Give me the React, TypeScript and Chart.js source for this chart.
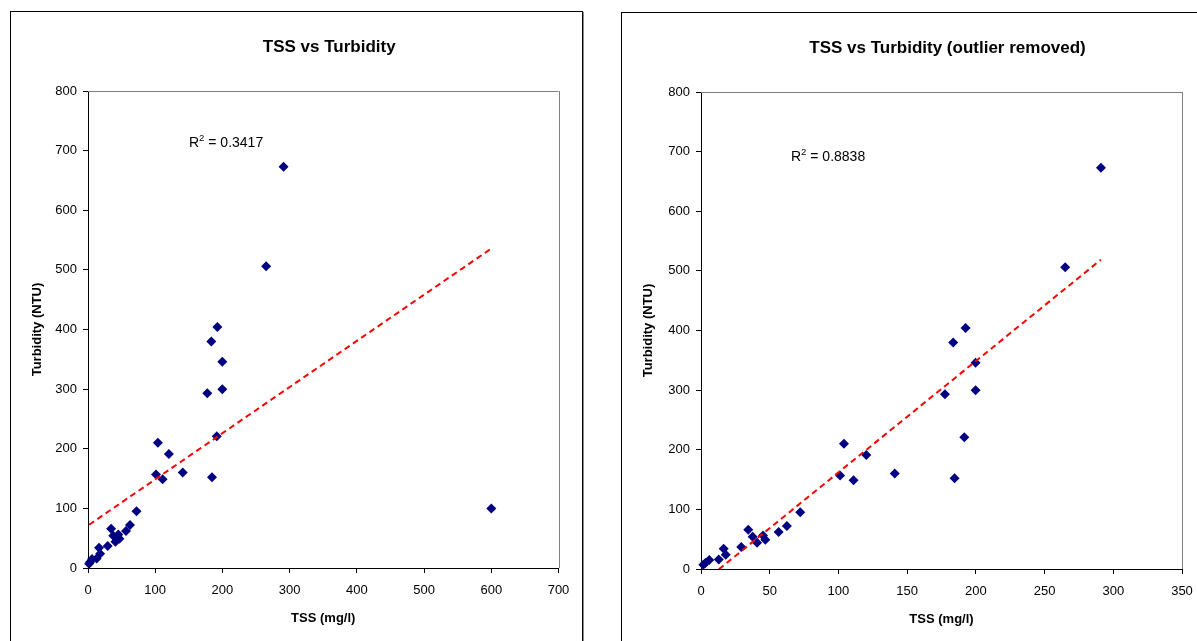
import React, { useEffect, useRef } from "react";
import { Chart, registerables } from "chart.js";

Chart.register(...registerables);

// TSS (mg/l) and turbidity (NTU) samples
const tssValues = [
  1.7, 3.2, 6, 12.9, 16.5, 18, 29.3, 34.4, 37.6, 40.8, 45.1, 46.8, 56.5, 62.5, 72.2,
  101.2, 104, 111, 120.3, 141, 177.5, 183.5, 184.5, 191.6, 192.5, 199.8, 199.8, 265, 291,
];
const turbidityValues = [
  7, 10, 15, 16, 34, 24, 37, 66, 54, 44, 56, 49, 62, 72, 95,
  157, 210, 149, 191, 160, 293, 380, 152, 221, 404, 346, 300, 506, 673,
];
// single outlying sample, only included in the first chart
const outlierTss = [600];
const outlierTurbidity = [100];

const turbidityMax = 800;
const turbidityStep = 100;
const fullTssMax = 700;
const fullTssStep = 100;
const trimmedTssMax = 350;
const trimmedTssStep = 50;

const fullR2Label = "0.3417";
const trimmedR2Label = "0.8838";

const FONT = "'Liberation Sans', Arial, Helvetica, sans-serif";

function linearFit(xs: number[], ys: number[]) {
  const n = xs.length;
  const mx = xs.reduce((a, b) => a + b, 0) / n;
  const my = ys.reduce((a, b) => a + b, 0) / n;
  let sxy = 0;
  let sxx = 0;
  for (let i = 0; i < n; i++) {
    sxy += (xs[i] - mx) * (ys[i] - my);
    sxx += (xs[i] - mx) * (xs[i] - mx);
  }
  const slope = sxy / sxx;
  return { slope, intercept: my - slope * mx };
}

type PanelProps = {
  title: string;
  xs: number[];
  ys: number[];
  xMax: number;
  xStep: number;
  r2: string;
  r2Dx: number;
  r2Dy: number;
  width: number;
  height: number;
  areaLeft: number;
  areaRight: number;
  areaTop: number;
  areaBottom: number;
};

function ScatterPanel(props: PanelProps) {
  const ref = useRef<HTMLCanvasElement | null>(null);

  useEffect(() => {
    const canvas = ref.current;
    if (!canvas) return;
    const { title, xs, ys, xMax, xStep, r2, r2Dx, r2Dy, width, height, areaLeft, areaRight, areaTop, areaBottom } = props;

    const points = xs.map((x, i) => ({ x, y: ys[i] }));
    const fit = linearFit(xs, ys);
    const xLo = Math.min(...xs);
    const xHi = Math.max(...xs);
    const trend = [
      { x: xLo, y: fit.intercept + fit.slope * xLo },
      { x: xHi, y: fit.intercept + fit.slope * xHi },
    ];

    const xAxisHeight = 62;

    const decorations = {
      id: "plotDecorations",
      beforeDatasetsDraw(chart: Chart) {
        const { ctx, chartArea: a } = chart;
        ctx.save();
        ctx.strokeStyle = "#808080";
        ctx.lineWidth = 1;
        ctx.beginPath();
        ctx.moveTo(a.left, Math.round(a.top) + 0.5);
        ctx.lineTo(a.right, Math.round(a.top) + 0.5);
        ctx.moveTo(Math.round(a.right) + 0.5, a.top);
        ctx.lineTo(Math.round(a.right) + 0.5, a.bottom);
        ctx.stroke();
        ctx.restore();
      },
      afterDraw(chart: Chart) {
        const { ctx, chartArea: a } = chart;
        ctx.save();
        ctx.fillStyle = "#000";
        ctx.textBaseline = "middle";

        // chart title, centred a little right of the plot area centre
        ctx.textAlign = "center";
        ctx.font = `bold 17px ${FONT}`;
        ctx.fillText(title, (a.left + a.right) / 2 + 6, 35);

        // R² annotation with a raised "2"
        ctx.textAlign = "left";
        let x = a.left + r2Dx;
        const y = a.top + r2Dy;
        ctx.font = `14px ${FONT}`;
        ctx.fillText("R", x, y);
        x += ctx.measureText("R").width;
        ctx.font = `9.5px ${FONT}`;
        ctx.fillText("2", x, y - 5);
        x += ctx.measureText("2").width;
        ctx.font = `14px ${FONT}`;
        ctx.fillText(" = " + r2, x, y);
        ctx.restore();
      },
    };

    const chart = new Chart(canvas, {
      type: "scatter",
      data: {
        datasets: [
          {
            label: "Linear trend",
            data: trend,
            showLine: true,
            borderColor: "#ff0000",
            borderWidth: 2,
            borderDash: [6, 4],
            pointRadius: 0,
            fill: false,
            clip: 0,
          },
          {
            label: "Samples",
            data: points,
            pointStyle: "rectRot",
            pointRadius: 5,
            pointBackgroundColor: "#000080",
            pointBorderColor: "#000080",
            pointBorderWidth: 0,
            clip: false,
          },
        ],
      },
      options: {
        animation: false,
        responsive: false,
        maintainAspectRatio: false,
        devicePixelRatio: 1,
        layout: {
          padding: {
            left: 0,
            right: width - areaRight,
            top: areaTop,
            bottom: height - areaBottom - xAxisHeight,
          },
        },
        plugins: {
          legend: { display: false },
          tooltip: { enabled: false },
          title: { display: false },
        },
        scales: {
          x: {
            type: "linear",
            min: 0,
            max: xMax,
            afterFit(scale: any) {
              scale.height = xAxisHeight;
            },
            ticks: {
              stepSize: xStep,
              color: "#000",
              padding: 10,
              font: { family: FONT, size: 13 },
            },
            grid: { drawOnChartArea: false, drawTicks: true, tickLength: 5, color: "#000" },
            border: { display: true, color: "#000", width: 1 },
            title: {
              display: true,
              text: "TSS (mg/l)",
              color: "#000",
              font: { family: FONT, size: 13, weight: "bold", lineHeight: 1.2 },
              padding: { top: 0, bottom: 4 },
            },
          },
          y: {
            type: "linear",
            min: 0,
            max: turbidityMax,
            afterFit(scale: any) {
              scale.width = areaLeft;
            },
            ticks: {
              stepSize: turbidityStep,
              color: "#000",
              padding: 6,
              font: { family: FONT, size: 13 },
            },
            grid: { drawOnChartArea: false, drawTicks: true, tickLength: 5, color: "#000" },
            border: { display: true, color: "#000", width: 1 },
            title: {
              display: true,
              text: "Turbidity (NTU)",
              color: "#000",
              font: { family: FONT, size: 13, weight: "bold", lineHeight: 1.2 },
              padding: { top: 19, bottom: 0 },
            },
          },
        },
      },
      plugins: [decorations],
    });

    return () => chart.destroy();
  }, []);

  return (
    <canvas
      ref={ref}
      width={props.width}
      height={props.height}
      style={{ display: "block", width: props.width, height: props.height }}
    />
  );
}

const panelStyle: React.CSSProperties = {
  position: "absolute",
  border: "1px solid #000",
  boxShadow: "1px 1px 0 #8a8a8a",
  background: "#fff",
  overflow: "hidden",
};

export default function App() {
  return (
    <div
      style={{
        position: "fixed",
        left: 0,
        top: 0,
        width: 1197,
        height: 641,
        overflow: "hidden",
        background: "#fff",
      }}
    >
      <div style={{ ...panelStyle, left: 10, top: 11, width: 571, height: 700 }}>
        <ScatterPanel
          title="TSS vs Turbidity"
          xs={[...tssValues, ...outlierTss]}
          ys={[...turbidityValues, ...outlierTurbidity]}
          xMax={fullTssMax}
          xStep={fullTssStep}
          r2={fullR2Label}
          r2Dx={101}
          r2Dy={52}
          width={571}
          height={628}
          areaLeft={77}
          areaRight={547.5}
          areaTop={79}
          areaBottom={556}
        />
      </div>
      <div style={{ ...panelStyle, left: 621, top: 12, width: 600, height: 700 }}>
        <ScatterPanel
          title="TSS vs Turbidity (outlier removed)"
          xs={tssValues}
          ys={turbidityValues}
          xMax={trimmedTssMax}
          xStep={trimmedTssStep}
          r2={trimmedR2Label}
          r2Dx={90}
          r2Dy={65}
          width={595}
          height={628}
          areaLeft={79}
          areaRight={560}
          areaTop={79}
          areaBottom={556}
        />
      </div>
    </div>
  );
}
